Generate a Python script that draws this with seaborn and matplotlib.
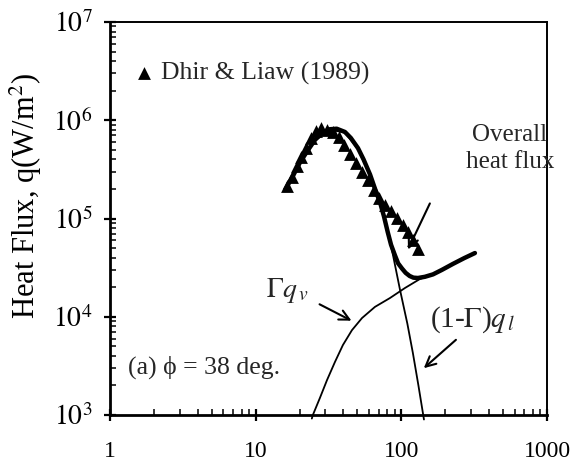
import matplotlib
matplotlib.use("Agg")
import matplotlib.pyplot as plt
import seaborn as sns
import pandas as pd

# ---------------- data ----------------
exp_x = [16.4, 17.7, 19.2, 20.5, 22.1, 24.0, 25.9, 28.1, 30.9, 33.9, 37.3, 40.4,
         44.4, 48.8, 53.7, 59.0, 64.9, 70.2, 77.2, 84.8, 93.3, 102.6, 111.0, 120.1, 130.0]
exp_y = [2.14e5, 2.64e5, 3.42e5, 4.23e5, 5.22e5, 6.6e5, 7.78e5, 8.34e5, 7.96e5, 7.59e5,
         6.76e5, 5.6e5, 4.53e5, 3.67e5, 2.97e5, 2.47e5, 1.95e5, 1.62e5, 1.37e5, 1.19e5,
         1.01e5, 8.6e4, 7.3e4, 6.0e4, 4.9e4]

overall_x = [15.9, 18, 20.1, 22.5, 25.5, 28.5, 32.3, 36, 41, 45, 50.4, 55, 61, 66, 71.6,
             76, 80.6, 85, 90.5, 95, 101, 107, 114, 121, 130, 145, 165, 190, 226, 270, 320]
overall_y = [1.95e5, 2.7e5, 3.7e5, 4.8e5, 6.3e5, 7.4e5, 8.1e5, 8.2e5, 7.6e5, 6.6e5, 5.2e5,
             4.0e5, 2.8e5, 2.0e5, 1.44e5, 1.05e5, 7.3e4, 5.4e4, 4.2e4, 3.5e4, 3.1e4, 2.8e4,
             2.6e4, 2.5e4, 2.48e4, 2.55e4, 2.7e4, 3.0e4, 3.45e4, 3.95e4, 4.45e4]

gqv_x = [24.3, 24.7, 27.6, 30.9, 35.0, 39.7, 45.8, 53.7, 65.9, 83.5, 105.8, 134, 165, 190,
         226, 270, 320]
gqv_y = [9.2e2, 1.0e3, 1.49e3, 2.27e3, 3.46e3, 5.15e3, 7.3e3, 9.7e3, 1.26e4, 1.55e4,
         1.96e4, 2.42e4, 2.7e4, 3.0e4, 3.45e4, 3.95e4, 4.45e4]

lq_x = [15.9, 20.1, 25.5, 32.3, 41, 50.4, 61, 71.6, 77.6, 87.6, 98, 110, 120, 131, 143]
lq_y = [1.93e5, 3.65e5, 6.2e5, 8.0e5, 7.5e5, 5.1e5, 2.75e5, 1.40e5, 9.6e4, 4.26e4, 1.87e4,
        8.5e3, 4.28e3, 2.0e3, 9.0e2]

x_ticks = [1, 10, 100, 1000]
x_ticklabels = ["1", "10", "100", "1000"]
y_ticks = [1e3, 1e4, 1e5, 1e6, 1e7]
y_ticklabels = [r"$10^{3}$", r"$10^{4}$", r"$10^{5}$", r"$10^{6}$", r"$10^{7}$"]

# ---------------- style ----------------
sns.set_theme(style="white")
plt.rcParams['font.family'] = ['Liberation Serif', 'DejaVu Serif']
plt.rcParams['mathtext.fontset'] = 'stix'

fig = plt.figure(figsize=(5.84, 4.67), dpi=100)
ax = fig.add_axes([110 / 584, 1 - 415 / 467, (547 - 110) / 584, (415 - 22) / 467])
ax.set(xscale='log', yscale='log')

df_exp = pd.DataFrame({"x": exp_x, "y": exp_y})
df_all = pd.DataFrame({"x": overall_x, "y": overall_y})
df_gqv = pd.DataFrame({"x": gqv_x, "y": gqv_y})
df_lq = pd.DataFrame({"x": lq_x, "y": lq_y})

sns.lineplot(data=df_gqv, x="x", y="y", ax=ax, color="black", lw=1.3,
             estimator=None, sort=False, clip_on=False)
sns.lineplot(data=df_lq, x="x", y="y", ax=ax, color="black", lw=1.3,
             estimator=None, sort=False, clip_on=False)
sns.scatterplot(data=df_exp, x="x", y="y", ax=ax, marker="^", color="black",
                s=85, linewidth=0, label="Dhir & Liaw (1989)", zorder=3)
sns.lineplot(data=df_all, x="x", y="y", ax=ax, color="black", lw=3.2,
             estimator=None, sort=False, zorder=4)

ax.set_xlim(1, 1000)
ax.set_ylim(1e3, 1e7)

ax.set_xticks(x_ticks)
ax.set_xticklabels(x_ticklabels)
ax.set_yticks(y_ticks)
ax.set_yticklabels(y_ticklabels)

for side in ["left", "bottom"]:
    ax.spines[side].set_linewidth(2.0)
for side in ["top", "right"]:
    ax.spines[side].set_linewidth(1.4)
for s in ax.spines.values():
    s.set_color("black")

ax.tick_params(axis="both", which="major", direction="inout", length=9, width=1.6,
               colors="black", bottom=True, left=True, top=False, right=False)
ax.tick_params(axis="x", which="major", pad=14, labelsize=17)
ax.tick_params(axis="y", which="major", pad=8, labelsize=20)
ax.tick_params(axis="both", which="minor", direction="in", length=4, width=1.3,
               bottom=True, left=True, top=False, right=False)

ax.set_xlabel("")
ax.set_ylabel(r"Heat Flux, q(W/m$^{2}$)", fontsize=22, color="black")
ax.yaxis.set_label_coords(-0.152, 0.557)

leg = ax.legend(loc="upper left", bbox_to_anchor=(0.02, 0.925), frameon=False,
                fontsize=18.5, handletextpad=0.05, borderaxespad=0, handlelength=1.2)

ax.text(556, 5.2e5, "Overall\nheat flux", ha="center", va="center", fontsize=18,
        linespacing=1.3)
ax.annotate("", xy=(109, 4.56e4), xytext=(160, 1.51e5),
            arrowprops=dict(arrowstyle="->", lw=1.5, mutation_scale=18, color="black"))

ax.text(16.4, 1.87e4, r"$\Gamma q_{\,v}$", ha="center", va="center", fontsize=20)
ax.annotate("", xy=(47.3, 8.85e3), xytext=(26.4, 1.38e4),
            arrowprops=dict(arrowstyle="->", lw=1.5, mutation_scale=18, color="black"))

ax.text(310, 9.3e3, r"(1-$\Gamma$)$q_{\,l}$", ha="center", va="center", fontsize=21)
ax.annotate("", xy=(138, 2.87e3), xytext=(245, 6.08e3),
            arrowprops=dict(arrowstyle="->", lw=1.5, mutation_scale=18, color="black"))

ax.text(1.33, 3.08e3, "(a) \u03d5 = 38 deg.", ha="left", va="center", fontsize=18.5)

fig.savefig("out.png", dpi=100)
